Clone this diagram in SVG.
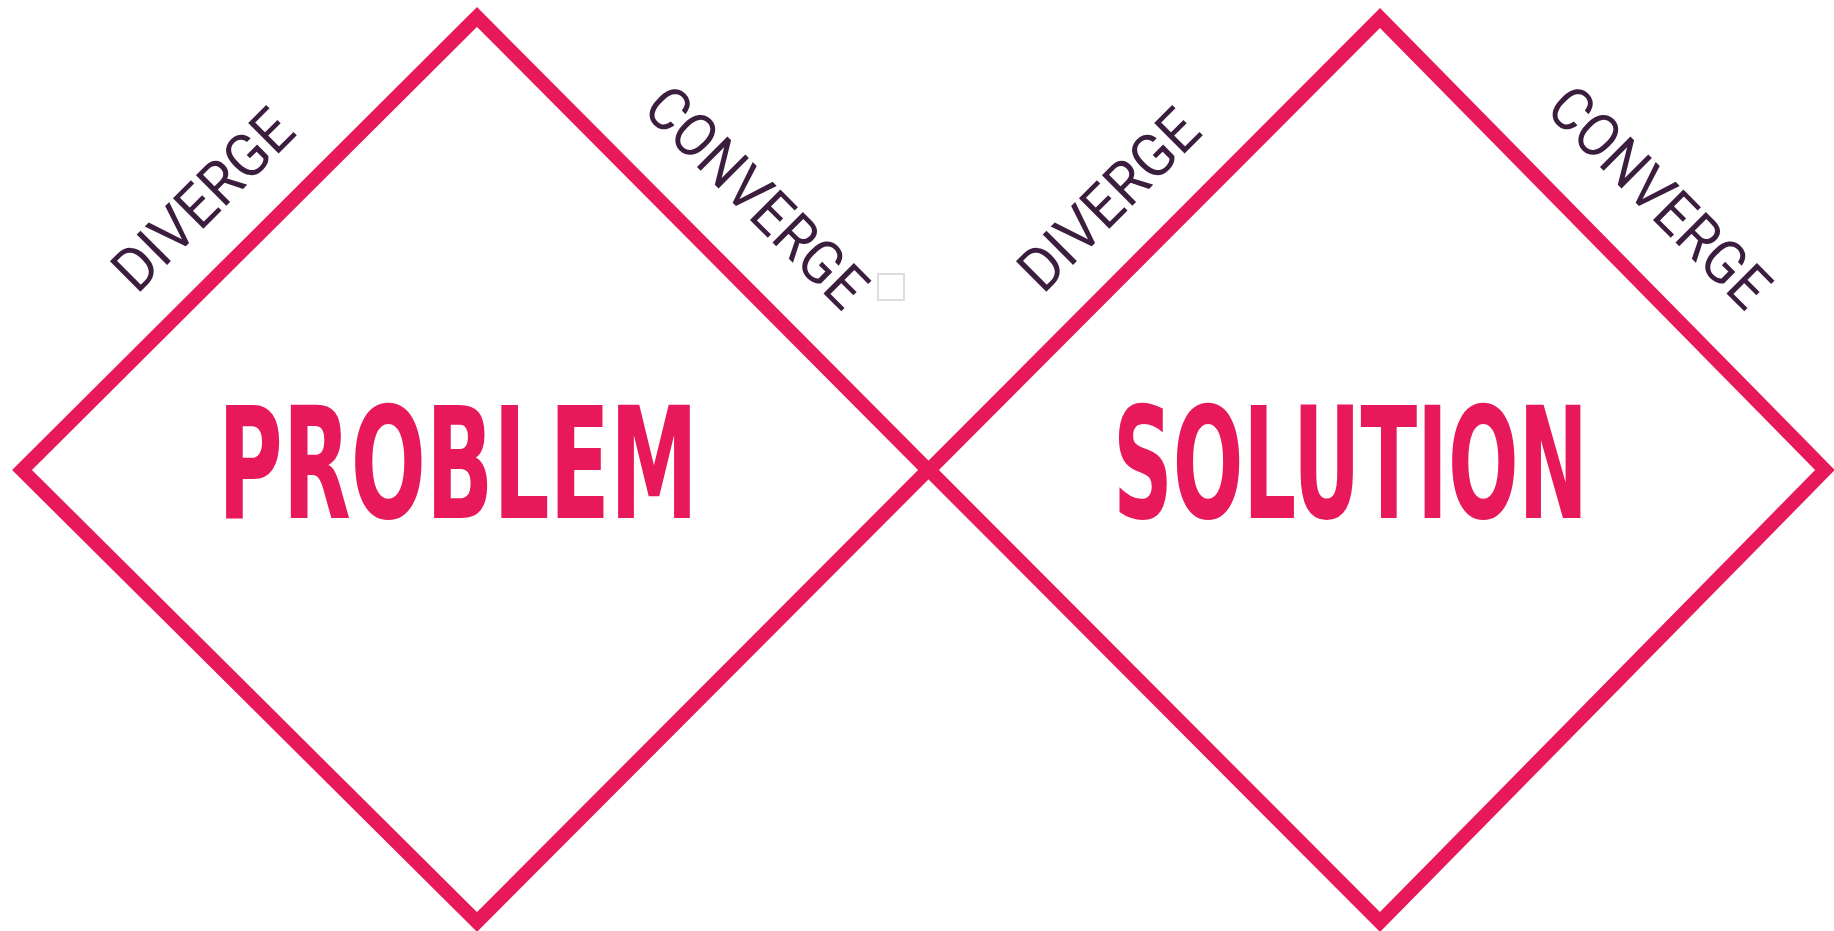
<svg xmlns="http://www.w3.org/2000/svg" width="1834" height="931" viewBox="0 0 1834 931">
<style>
.dia{fill:none;stroke:#E8195A;stroke-width:14;stroke-linejoin:miter}
.big{font-family:"Liberation Sans Narrow","DejaVu Sans Condensed","Liberation Sans",sans-serif;font-weight:bold;font-size:155px;fill:#E8195A}
.lab{font-family:Roboto,"Liberation Sans",sans-serif;font-size:54px;font-weight:400;fill:#3B1D3E}
</style>
<rect width="1834" height="931" fill="#ffffff"/>
<g id="connectors"></g>
<g id="problem">
<polygon class="dia" points="477,17 928,470 477,922 22,470"/>
<text class="big" x="218" y="518" textLength="480" lengthAdjust="spacingAndGlyphs">PROBLEM</text>
</g>
<g id="solution">
<polygon class="dia" points="1380,18 1825,470 1380,922 929,470"/>
<text class="big" x="1113" y="518" textLength="475" lengthAdjust="spacingAndGlyphs">SOLUTION</text>
</g>
<g id="labels">
<text class="lab" transform="translate(137,295) rotate(-45) scale(1,1.12)" textLength="228" lengthAdjust="spacingAndGlyphs">DIVERGE</text>
<text class="lab" transform="translate(1043,295) rotate(-45) scale(1,1.12)" textLength="228" lengthAdjust="spacingAndGlyphs">DIVERGE</text>
<text class="lab" transform="translate(641,111) rotate(45) scale(1,1.12)" textLength="285" lengthAdjust="spacingAndGlyphs">CONVERGE</text>
<text class="lab" transform="translate(1544,111) rotate(45) scale(1,1.12)" textLength="285" lengthAdjust="spacingAndGlyphs">CONVERGE</text>
</g>
<rect id="icon" x="878" y="274" width="26" height="26" fill="#ffffff" stroke="#dddddd" stroke-width="2"/>
</svg>
